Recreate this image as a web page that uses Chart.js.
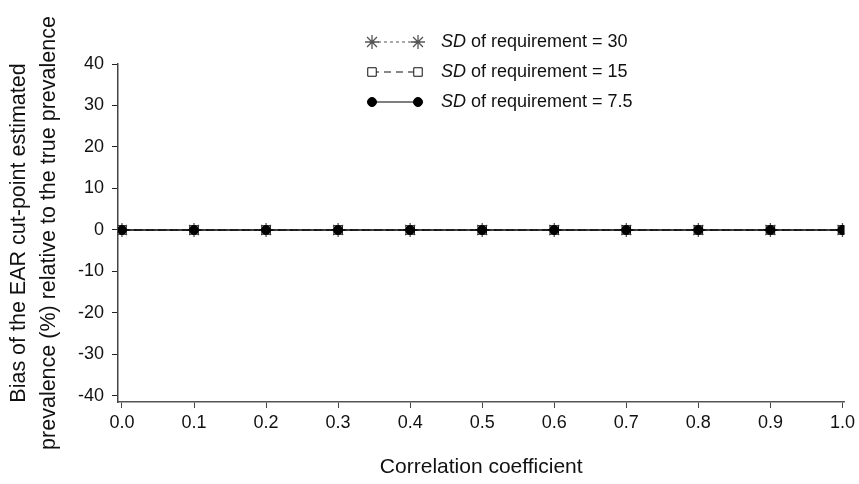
<!DOCTYPE html>
<html>
<head>
<meta charset="utf-8">
<script src="https://cdn.jsdelivr.net/npm/chart.js@4"></script>
<style>
  html, body { margin: 0; padding: 0; background: #fff; }
  #wrap { width: 859px; height: 484px; }
</style>
</head>
<body>
<div id="wrap"><canvas id="chart"></canvas></div>
<script>
const correlation = [0.0, 0.1, 0.2, 0.3, 0.4, 0.5, 0.6, 0.7, 0.8, 0.9, 1.0];
const biasSD30 = [0, 0, 0, 0, 0, 0, 0, 0, 0, 0, 0];
const biasSD15 = [0, 0, 0, 0, 0, 0, 0, 0, 0, 0, 0];
const biasSD75 = [0, 0, 0, 0, 0, 0, 0, 0, 0, 0, 0];
const sdValues = ['30', '15', '7.5'];
const yTicks = [-40, -30, -20, -10, 0, 10, 20, 30, 40];
const xTicks = [0.0, 0.1, 0.2, 0.3, 0.4, 0.5, 0.6, 0.7, 0.8, 0.9, 1.0];

const FONT = '"Liberation Sans", Arial, Helvetica, sans-serif';

function pts(ys) {
  return correlation.map((x, i) => ({ x: x, y: ys[i] }));
}

// legend: line with a marker on each end, "SD" in italics
const legendPlugin = {
  id: 'sdLegend',
  afterDraw(chart) {
    const ctx = chart.ctx;
    const rows = [42, 72, 102];
    chart.data.datasets.forEach((ds, i) => {
      const y = rows[i];
      const x1 = 372, x2 = 418;
      ctx.save();
      ctx.strokeStyle = ds.borderColor;
      ctx.lineWidth = 1.2;
      ctx.setLineDash(ds.borderDash || []);
      ctx.beginPath();
      ctx.moveTo(x1, y);
      ctx.lineTo(x2, y);
      ctx.stroke();
      ctx.setLineDash([]);
      ctx.fillStyle = ds.pointBackgroundColor;
      ctx.strokeStyle = ds.pointBorderColor;
      ctx.lineWidth = ds.pointBorderWidth;
      [x1, x2].forEach(x => {
        Chart.helpers.drawPoint(ctx, {
          pointStyle: ds.pointStyle,
          radius: ds.pointRadius,
          borderWidth: ds.pointBorderWidth,
          rotation: 0
        }, x, y);
      });
      ctx.fillStyle = '#111';
      ctx.textBaseline = 'middle';
      ctx.font = 'italic 18px ' + FONT;
      ctx.fillText('SD', 441, y);
      const w = ctx.measureText('SD').width;
      ctx.font = '18px ' + FONT;
      ctx.fillText(' of requirement = ' + sdValues[i], 441 + w, y);
      ctx.restore();
    });
  }
};

new Chart(document.getElementById('chart'), {
  type: 'scatter',
  data: {
    datasets: [
      {
        label: 'SD of requirement = 30',
        data: pts(biasSD30),
        showLine: true,
        borderColor: '#555',
        borderWidth: 1.2,
        borderDash: [3, 3],
        pointStyle: 'star',
        pointRadius: 7,
        pointBorderWidth: 1.3,
        pointBorderColor: '#555',
        pointBackgroundColor: '#555',
        order: 3
      },
      {
        label: 'SD of requirement = 15',
        data: pts(biasSD15),
        showLine: true,
        borderColor: '#111',
        borderWidth: 1.2,
        borderDash: [7, 5],
        pointStyle: 'rect',
        pointRadius: 6,
        pointBorderWidth: 1,
        pointBorderColor: '#111',
        pointBackgroundColor: '#fff',
        order: 2
      },
      {
        label: 'SD of requirement = 7.5',
        data: pts(biasSD75),
        showLine: true,
        borderColor: '#000',
        borderWidth: 1.3,
        pointStyle: 'circle',
        pointRadius: 4.5,
        pointBorderWidth: 1,
        pointBorderColor: '#000',
        pointBackgroundColor: '#000',
        order: 1
      }
    ]
  },
  options: {
    responsive: true,
    maintainAspectRatio: false,
    animation: false,
    layout: { padding: { top: 64, right: 14, left: 0, bottom: 0 } },
    plugins: {
      legend: { display: false },
      tooltip: { enabled: false }
    },
    scales: {
      x: {
        type: 'linear',
        min: -0.0055,
        max: 1.0028,
        afterBuildTicks: s => { s.ticks = xTicks.map(v => ({ value: v })); },
        afterFit: s => { s.height = 82; },
        grid: { drawOnChartArea: false, drawTicks: true, tickLength: 6, color: '#444' },
        border: { display: true, color: '#555', width: 1.5 },
        ticks: {
          color: '#111',
          font: { family: FONT, size: 18 },
          padding: 4,
          maxRotation: 0,
          callback: v => Number(v).toFixed(1)
        },
        title: {
          display: true,
          text: 'Correlation coefficient',
          color: '#111',
          font: { family: FONT, size: 21 },
          padding: { top: 10, bottom: 4 }
        }
      },
      y: {
        min: -41.45,
        max: 40,
        afterBuildTicks: s => { s.ticks = yTicks.map(v => ({ value: v })); },
        afterFit: s => { s.width = 118; },
        grid: { drawOnChartArea: false, drawTicks: true, tickLength: 6, color: '#222' },
        border: { display: true, color: '#444', width: 1.5 },
        ticks: {
          color: '#111',
          font: { family: FONT, size: 18 },
          padding: 8
        },
        title: {
          display: true,
          text: ['Bias of the EAR cut-point estimated', 'prevalence (%) relative to the true prevalence'],
          color: '#111',
          font: { family: FONT, size: 21.5, lineHeight: 1.4 },
          padding: { top: 4, bottom: 0 }
        }
      }
    }
  },
  plugins: [legendPlugin]
});
</script>
</body>
</html>
